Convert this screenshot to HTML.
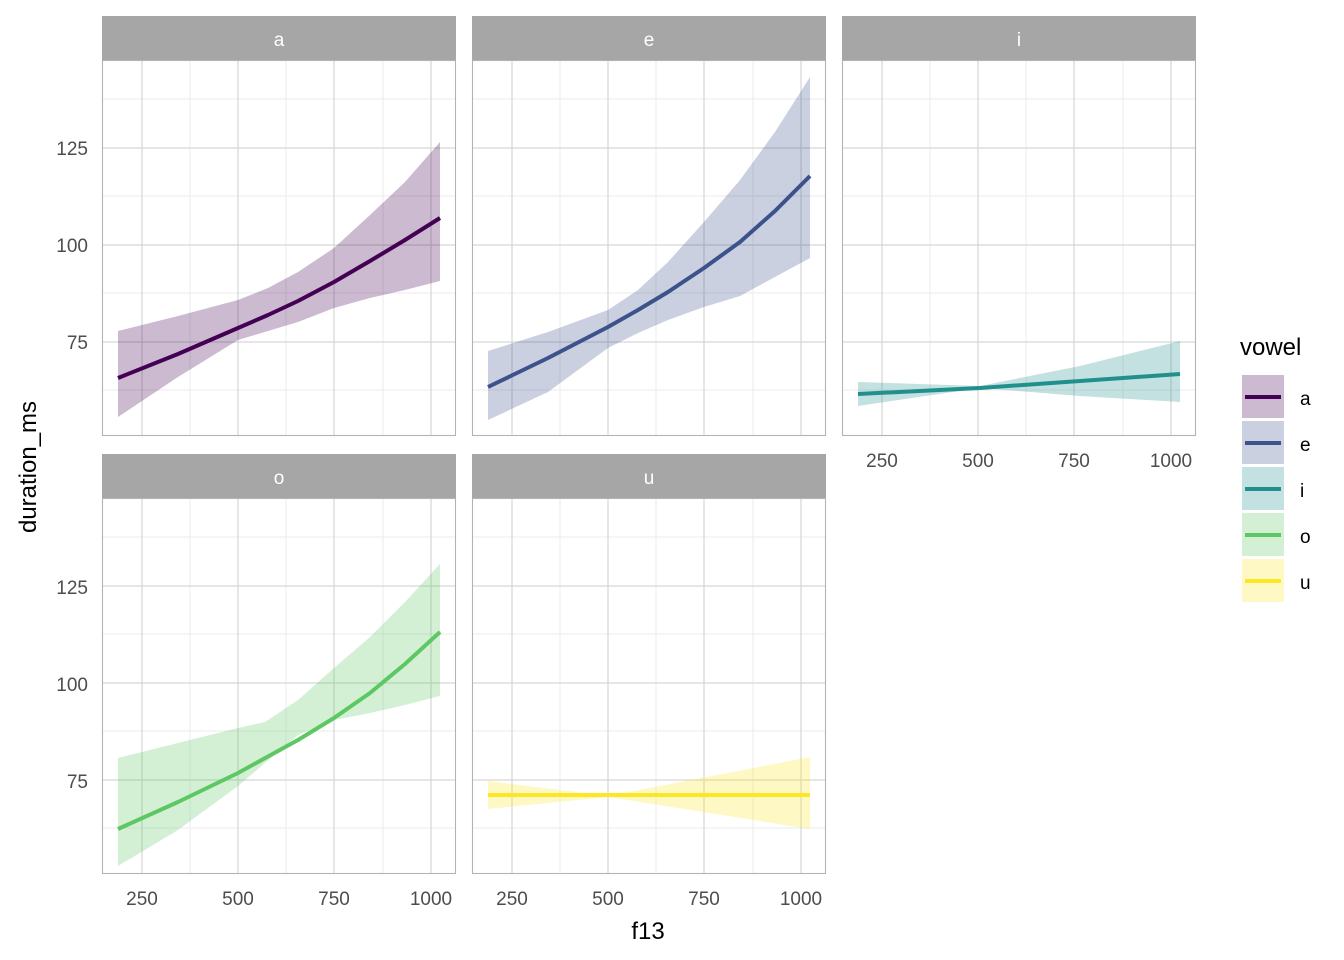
<!DOCTYPE html>
<html><head><meta charset="utf-8"><style>body{margin:0;background:#fff}svg{display:block}text{font-family:"Liberation Sans",Arial,sans-serif}</style></head><body>
<svg width="1344" height="960" xmlns="http://www.w3.org/2000/svg">
<defs>
<g id="grid">
<rect x="102" y="60" width="354" height="376" fill="#fff"/>
<g stroke="#ebebeb" stroke-width="1">
<line x1="190" y1="60" x2="190" y2="436"/><line x1="286" y1="60" x2="286" y2="436"/><line x1="383" y1="60" x2="383" y2="436"/>
<line x1="102" y1="99" x2="456" y2="99"/><line x1="102" y1="196" x2="456" y2="196"/><line x1="102" y1="293" x2="456" y2="293"/><line x1="102" y1="390" x2="456" y2="390"/>
</g>
<g stroke="#d6d6d6" stroke-width="1.2">
<line x1="142" y1="60" x2="142" y2="436"/><line x1="238" y1="60" x2="238" y2="436"/><line x1="334" y1="60" x2="334" y2="436"/><line x1="431" y1="60" x2="431" y2="436"/>
<line x1="102" y1="148" x2="456" y2="148"/><line x1="102" y1="245" x2="456" y2="245"/><line x1="102" y1="342" x2="456" y2="342"/>
</g>
<rect x="102" y="16" width="354" height="44" fill="#a6a6a6"/>
</g>
<g id="border"><rect x="102.5" y="60.5" width="353" height="375" fill="none" stroke="#b3b3b3" stroke-width="1.1"/></g>
<g id="xt" font-size="19" fill="#4d4d4d" text-anchor="middle">
<text x="142" y="467">250</text><text x="238" y="467">500</text><text x="334" y="467">750</text><text x="431" y="467">1000</text>
</g>
<g id="yt" font-size="19" fill="#4d4d4d" text-anchor="end">
<text x="88" y="155">125</text><text x="88" y="252">100</text><text x="88" y="349">75</text>
</g>
</defs>

<!-- panel a -->
<use href="#grid"/>
<path d="M118,331 L178,316 L238,300 L268,288 L298,272 L334,248 L370,215 L405,182 L440,142 L440,281 L405,290 L370,298 L334,308 L298,322 L268,331 L238,340 L178,377 L118,417 Z" fill="#440154" fill-opacity="0.27"/>
<path d="M118,378 L178,354 L238,328 L268,315 L298,301 L334,282 L370,261 L405,240 L440,218" fill="none" stroke="#440154" stroke-width="4" stroke-linejoin="round"/>
<use href="#border"/>
<text x="279" y="46" font-size="19" fill="#fff" text-anchor="middle">a</text>

<!-- panel e -->
<g transform="translate(370,0)">
<use href="#grid"/>
<path d="M118,351 L178,332 L238,310 L268,290 L298,262 L334,222 L370,180 L405,132 L440,77 L440,258 L405,277 L370,296 L334,307 L298,320 L268,333 L238,348 L178,392 L118,420 Z" fill="#3B528B" fill-opacity="0.27"/>
<path d="M118,387 L178,358 L238,327 L268,310 L298,292 L334,268 L370,242 L405,211 L440,176" fill="none" stroke="#3B528B" stroke-width="4" stroke-linejoin="round"/>
<use href="#border"/>
<text x="279" y="46" font-size="19" fill="#fff" text-anchor="middle">e</text>
</g>

<!-- panel i -->
<g transform="translate(740,0)">
<use href="#grid"/>
<path d="M118,382 L240,386 L340,366 L440,341 L440,402 L340,396 L240,388 L118,406 Z" fill="#21908C" fill-opacity="0.27"/>
<path d="M118,394 L240,388 L340,381 L440,374" fill="none" stroke="#21908C" stroke-width="4"/>
<use href="#border"/>
<text x="279" y="46" font-size="19" fill="#fff" text-anchor="middle">i</text>
<use href="#xt"/>
</g>

<!-- panel o -->
<g transform="translate(0,438)">
<use href="#grid"/>
<path d="M118,320 L178,305 L238,290 L265,284 L298,262 L334,230 L370,199 L405,164 L440,126 L440,258 L405,267 L370,275 L334,282 L298,297 L265,325 L238,348 L178,392 L118,428 Z" fill="#5DC863" fill-opacity="0.27"/>
<path d="M118,391 L178,364 L238,335 L298,302 L334,280 L370,255 L405,226 L440,194" fill="none" stroke="#5DC863" stroke-width="4" stroke-linejoin="round"/>
<use href="#border"/>
<text x="279" y="46" font-size="19" fill="#fff" text-anchor="middle">o</text>
<use href="#xt"/>
</g>
<!-- panel u -->
<g transform="translate(370,438)">
<use href="#grid"/>
<path d="M118,343 L238,358 L440,319 L440,391 L238,359 L118,371 Z" fill="#FDE725" fill-opacity="0.27"/>
<path d="M118,357 L440,357" fill="none" stroke="#FDE725" stroke-width="4"/>
<use href="#border"/>
<text x="279" y="46" font-size="19" fill="#fff" text-anchor="middle">u</text>
<use href="#xt"/>
</g>

<use href="#yt"/>
<use href="#yt" transform="translate(0,439)"/>

<text x="648" y="939" font-size="24" fill="#000" text-anchor="middle">f13</text>
<text transform="translate(36,467) rotate(-90)" font-size="24" fill="#000" text-anchor="middle">duration_ms</text>

<!-- legend -->
<text x="1240" y="355" font-size="24" fill="#000">vowel</text>
<rect x="1242" y="375" width="42" height="43" fill="#440154" fill-opacity="0.27"/>
<line x1="1245" y1="397" x2="1281" y2="397" stroke="#440154" stroke-width="4"/>
<rect x="1242" y="421" width="42" height="43" fill="#3B528B" fill-opacity="0.27"/>
<line x1="1245" y1="443" x2="1281" y2="443" stroke="#3B528B" stroke-width="4"/>
<rect x="1242" y="467" width="42" height="43" fill="#21908C" fill-opacity="0.27"/>
<line x1="1245" y1="489" x2="1281" y2="489" stroke="#21908C" stroke-width="4"/>
<rect x="1242" y="513" width="42" height="43" fill="#5DC863" fill-opacity="0.27"/>
<line x1="1245" y1="535" x2="1281" y2="535" stroke="#5DC863" stroke-width="4"/>
<rect x="1242" y="559" width="42" height="43" fill="#FDE725" fill-opacity="0.27"/>
<line x1="1245" y1="581" x2="1281" y2="581" stroke="#FDE725" stroke-width="4"/>
<g font-size="19" fill="#000"><text x="1300" y="405">a</text><text x="1300" y="451">e</text><text x="1300" y="497">i</text><text x="1300" y="543">o</text><text x="1300" y="589">u</text></g>
</svg>
</body></html>
